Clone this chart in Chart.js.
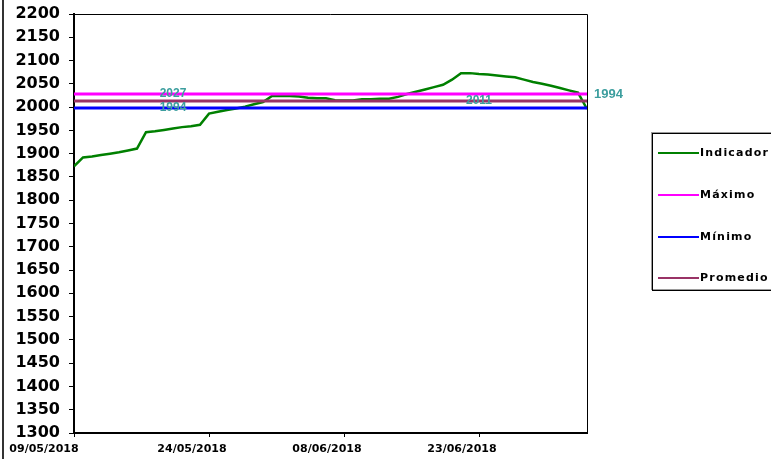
<!DOCTYPE html>
<html>
<head>
<meta charset="utf-8">
<script src="https://cdn.jsdelivr.net/npm/chart.js@4.4.1/dist/chart.umd.min.js"></script>
<style>
  html, body { margin: 0; padding: 0; background: #ffffff; }
  #wrap { width: 771px; height: 459px; position: relative; }
</style>
</head>
<body>
<div id="wrap"><canvas id="c" width="771" height="459"></canvas></div>
<script>
// ---- data ----
const seriesNames = ['Indicador', 'Máximo', 'Mínimo', 'Promedio'];
const seriesColors = ['#008000', '#ff00ff', '#0000ff', '#993366'];
const indicatorDates = [
  '09/05/2018','10/05/2018','11/05/2018','12/05/2018','13/05/2018','14/05/2018','15/05/2018','16/05/2018',
  '17/05/2018','18/05/2018','19/05/2018','20/05/2018','21/05/2018','22/05/2018','23/05/2018','24/05/2018',
  '25/05/2018','26/05/2018','27/05/2018','28/05/2018','29/05/2018','30/05/2018','31/05/2018','01/06/2018',
  '02/06/2018','03/06/2018','04/06/2018','05/06/2018','06/06/2018','07/06/2018','08/06/2018','09/06/2018',
  '10/06/2018','11/06/2018','12/06/2018','13/06/2018','14/06/2018','15/06/2018','16/06/2018','17/06/2018',
  '18/06/2018','19/06/2018','20/06/2018','21/06/2018','22/06/2018','23/06/2018','24/06/2018','25/06/2018',
  '26/06/2018','27/06/2018','28/06/2018','29/06/2018','30/06/2018','01/07/2018','02/07/2018','03/07/2018',
  '04/07/2018','05/07/2018'
];
const indicatorValues = [
  1873,1892,1894,1897,1900,1903,1907,1911,
  1946,1948,1951,1954,1957,1959,1962,1986,
  1990,1994,1997,2001,2006,2011,2024,2024,
  2024,2023,2020,2019,2019,2015,2014,2014,
  2017,2017,2018,2018,2022,2028,2033,2038,
  2043,2048,2059,2073,2073,2071,2070,2068,
  2066,2064,2059,2054,2050,2046,2041,2036,
  2031,1996
];
const maxValue = 2028;
const minValue = 1998;
const avgValue = 2013;
const maxLabel = '2027';
const minLabel = '1994';
const avgLabel = '2011';
const lastLabel = '1994';
const maxLabelDate = '20/05/2018';
const minLabelDate = '20/05/2018';
const avgLabelDate = '23/06/2018';
const xTickDates = ['09/05/2018', '24/05/2018', '08/06/2018', '23/06/2018'];
const xStart = '09/05/2018';
const xEnd = '05/07/2018';
const yMin = 1300, yMax = 2200, yStep = 50;

// ---- helpers ----
function parseDate(s) { const [d, m, y] = s.split('/').map(Number); return Date.UTC(y, m - 1, d); }
const DAY = 86400000;
function dayOf(s) { return (parseDate(s) - parseDate(xStart)) / DAY; }
const xMaxDay = dayOf(xEnd);
const tickDays = xTickDates.map(dayOf);
const xLabelShift = [-30, -17, -17, -17];

const indicatorPts = indicatorDates.map((d, i) => ({ x: dayOf(d), y: indicatorValues[i] }));
const flat = v => [{ x: 0, y: v }, { x: xMaxDay, y: v }];

const labelColor = '#3c9e9e';

const decorPlugin = {
  id: 'decor',
  beforeDraw(chart) {
    const ctx = chart.ctx;
    ctx.save();
    ctx.fillStyle = '#ffffff';
    ctx.fillRect(0, 0, chart.width, chart.height);
    ctx.strokeStyle = '#333333';
    ctx.lineWidth = 2;
    ctx.beginPath();
    ctx.moveTo(3, 0); ctx.lineTo(3, chart.height);
    ctx.stroke();
    ctx.restore();
  },
  afterDraw(chart) {
    const ctx = chart.ctx;
    const a = chart.chartArea;
    const xs = chart.scales.x, ys = chart.scales.y;
    ctx.save();
    // plot border top/right
    ctx.strokeStyle = '#000000';
    ctx.lineWidth = 1;
    ctx.beginPath();
    ctx.moveTo(a.left, a.top + 0.5); ctx.lineTo(a.right + 0.5, a.top + 0.5); ctx.lineTo(a.right + 0.5, a.bottom);
    ctx.stroke();
    // x axis labels
    ctx.font = 'bold 11px "DejaVu Sans", Verdana, sans-serif';
    ctx.fillStyle = '#000000';
    ctx.textAlign = 'center';
    ctx.textBaseline = 'middle';
    xTickDates.forEach((t, i) => {
      ctx.fillText(t, xs.getPixelForValue(tickDays[i]) + xLabelShift[i], a.bottom + 16);
    });
    // data labels
    ctx.font = 'bold 12px "Liberation Sans", Arial, sans-serif';
    ctx.fillStyle = labelColor;
    ctx.fillText(maxLabel, xs.getPixelForValue(dayOf(maxLabelDate)), ys.getPixelForValue(maxValue));
    ctx.fillText(minLabel, xs.getPixelForValue(dayOf(minLabelDate)), ys.getPixelForValue(minValue));
    ctx.fillText(avgLabel, xs.getPixelForValue(dayOf(avgLabelDate)), ys.getPixelForValue(avgValue));
    ctx.font = 'bold 13px "Liberation Sans", Arial, sans-serif';
    ctx.textAlign = 'left';
    const lp = indicatorPts[indicatorPts.length - 1];
    ctx.fillText(lastLabel, xs.getPixelForValue(lp.x) + 7, ys.getPixelForValue(lp.y) - 15);

    // legend box
    const bx = 652, by = 133, bw = 130, bh = 157;
    ctx.strokeStyle = '#9a9a9a';
    ctx.lineWidth = 1;
    ctx.strokeRect(bx - 0.5, by - 0.5, bw, bh);
    ctx.strokeStyle = '#000000';
    ctx.strokeRect(bx + 0.5, by + 0.5, bw, bh);
    const itemY = [153, 195, 237, 278];
    ctx.font = 'bold 11px "DejaVu Sans", Verdana, sans-serif';
    try { ctx.letterSpacing = '1.2px'; } catch (e) {}
    ctx.textAlign = 'left';
    ctx.textBaseline = 'middle';
    seriesNames.forEach((n, i) => {
      ctx.strokeStyle = seriesColors[i];
      ctx.lineWidth = 2;
      ctx.beginPath();
      ctx.moveTo(658, itemY[i]); ctx.lineTo(699, itemY[i]);
      ctx.stroke();
      ctx.fillStyle = '#000000';
      ctx.fillText(n, 700, itemY[i]);
    });
    ctx.restore();
  }
};

new Chart(document.getElementById('c'), {
  type: 'line',
  data: {
    datasets: [
      { label: seriesNames[0], data: indicatorPts, borderColor: seriesColors[0], borderWidth: 2.5, pointRadius: 0, tension: 0, order: 4 },
      { label: seriesNames[1], data: flat(maxValue), borderColor: seriesColors[1], borderWidth: 3, pointRadius: 0, order: 3 },
      { label: seriesNames[2], data: flat(minValue), borderColor: seriesColors[2], borderWidth: 3, pointRadius: 0, order: 2 },
      { label: seriesNames[3], data: flat(avgValue), borderColor: seriesColors[3], borderWidth: 3, pointRadius: 0, order: 1 }
    ]
  },
  options: {
    responsive: false,
    animation: false,
    devicePixelRatio: 1,
    layout: { padding: { left: 0, top: 14, right: 184, bottom: 0 } },
    plugins: { legend: { display: false }, tooltip: { enabled: false }, title: { display: false } },
    scales: {
      x: {
        type: 'linear',
        min: 0, max: xMaxDay,
        afterBuildTicks(s) { s.ticks = tickDays.map(v => ({ value: v })); },
        afterFit(s) { s.height = 26; },
        border: { display: true, color: '#000000', width: 2 },
        grid: { display: true, drawOnChartArea: false, drawTicks: true, tickLength: 4, color: '#000000' },
        ticks: { display: false }
      },
      y: {
        type: 'linear',
        min: yMin, max: yMax,
        afterFit(s) { s.width = 74; },
        border: { display: true, color: '#000000', width: 2 },
        grid: { display: true, drawOnChartArea: false, drawTicks: true, tickLength: 5, color: '#000000' },
        ticks: {
          stepSize: yStep, padding: 9, color: '#000000',
          font: { family: '"DejaVu Sans", Verdana, sans-serif', weight: 'bold', size: 16, lineHeight: 0.5 },
          callback: (v) => String(v)
        }
      }
    }
  },
  plugins: [decorPlugin]
});
</script>
</body>
</html>
